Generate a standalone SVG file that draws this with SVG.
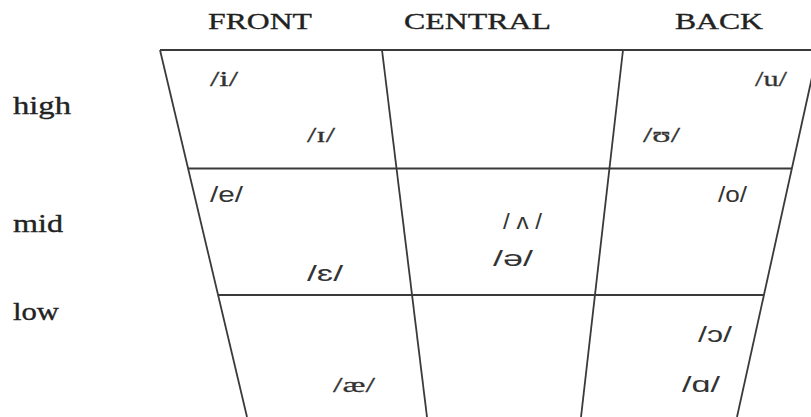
<svg xmlns="http://www.w3.org/2000/svg" width="811" height="417" viewBox="0 0 811 417">
<style>
.ln{stroke:#3a3a3a;stroke-width:1.8;fill:none}
.hd{font-family:"Liberation Serif",serif;font-size:24px;fill:#222;stroke:#222;stroke-width:0.35}
.rw{font-family:"Liberation Serif",serif;font-size:26px;fill:#222;stroke:#222;stroke-width:0.35}
.vs{font-family:"Liberation Sans",sans-serif;font-size:22px;fill:#333}
.vf{font-family:"Liberation Serif",serif;font-size:22px;fill:#333;stroke:#333;stroke-width:0.3}
</style>
<rect width="811" height="417" fill="#ffffff"/>
<g id="connectors">
<line class="ln" x1="160" y1="50" x2="811" y2="50"/>
<line class="ln" x1="188" y1="168.5" x2="792" y2="168.5"/>
<line class="ln" x1="218" y1="295" x2="764" y2="295"/>
<line class="ln" x1="160" y1="50" x2="247" y2="417"/>
<line class="ln" x1="382" y1="50" x2="427" y2="417"/>
<line class="ln" x1="623" y1="50" x2="581" y2="417"/>
<line class="ln" x1="818" y1="50" x2="737" y2="417"/>
</g>
<g id="col-front"><text class="hd" x="208" y="29" textLength="104" lengthAdjust="spacingAndGlyphs">FRONT</text></g>
<g id="col-central"><text class="hd" x="404" y="29" textLength="147" lengthAdjust="spacingAndGlyphs">CENTRAL</text></g>
<g id="col-back"><text class="hd" x="675" y="29" textLength="88" lengthAdjust="spacingAndGlyphs">BACK</text></g>
<g id="row-high"><text class="rw" x="13" y="114" textLength="58" lengthAdjust="spacingAndGlyphs">high</text></g>
<g id="row-mid"><text class="rw" x="13" y="232" textLength="50" lengthAdjust="spacingAndGlyphs">mid</text></g>
<g id="row-low"><text class="rw" x="13" y="320" textLength="46" lengthAdjust="spacingAndGlyphs">low</text></g>
<g id="v-i"><text class="vf" x="210" y="86" textLength="28" lengthAdjust="spacingAndGlyphs">/i/</text></g>
<g id="v-ih"><text class="vf" x="307" y="142" textLength="28" lengthAdjust="spacingAndGlyphs">/ɪ/</text></g>
<g id="v-u"><text class="vf" x="755" y="86" textLength="32" lengthAdjust="spacingAndGlyphs">/u/</text></g>
<g id="v-uh"><text class="vf" x="643" y="142" textLength="37" lengthAdjust="spacingAndGlyphs">/ʊ/</text></g>
<g id="v-e"><text class="vs" x="210" y="202" textLength="33" lengthAdjust="spacingAndGlyphs">/e/</text></g>
<g id="v-eh"><text class="vs" x="307" y="281" textLength="36" lengthAdjust="spacingAndGlyphs">/ɛ/</text></g>
<g id="v-wedge"><text class="vs" x="503" y="229" textLength="39" lengthAdjust="spacingAndGlyphs">/ ʌ /</text></g>
<g id="v-schwa"><text class="vs" x="493" y="266" textLength="40" lengthAdjust="spacingAndGlyphs">/ə/</text></g>
<g id="v-o"><text class="vs" x="718" y="202" textLength="29" lengthAdjust="spacingAndGlyphs">/o/</text></g>
<g id="v-ae"><text class="vf" x="333" y="392" textLength="42" lengthAdjust="spacingAndGlyphs">/æ/</text></g>
<g id="v-open-o"><text class="vs" x="698" y="342" textLength="34" lengthAdjust="spacingAndGlyphs">/ɔ/</text></g>
<g id="v-a"><text class="vs" x="682" y="392" textLength="38" lengthAdjust="spacingAndGlyphs">/ɑ/</text></g>
</svg>
